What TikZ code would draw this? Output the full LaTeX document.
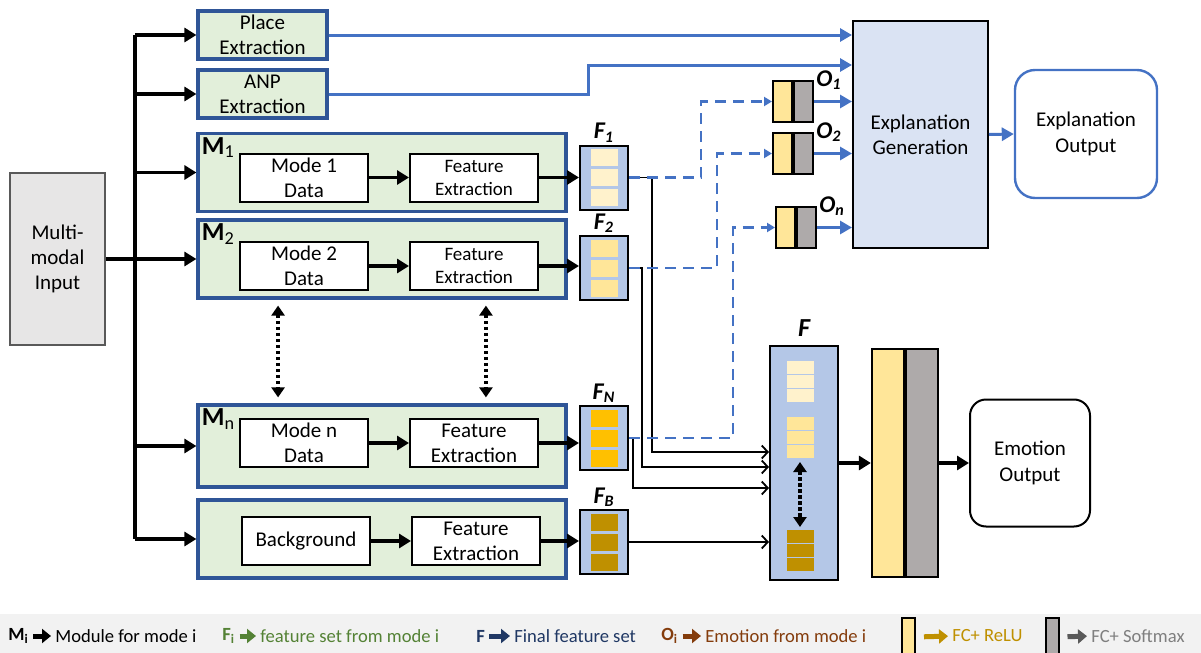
\documentclass[tikz,border=0pt]{standalone}
\usepackage{fontspec}
\setmainfont{Carlito}
\usetikzlibrary{positioning,arrows.meta,calc}
\definecolor{modgreen}{HTML}{E2EFDA}
\definecolor{modblue}{HTML}{2F5597}
\definecolor{lineblue}{HTML}{4472C4}
\definecolor{fblue}{HTML}{B4C7E7}
\definecolor{explblue}{HTML}{DAE3F3}
\definecolor{inputgray}{HTML}{E7E6E6}
\definecolor{fcyel}{HTML}{FFE699}
\definecolor{fcgray}{HTML}{AEAAAA}
\definecolor{sqone}{HTML}{FFF2CC}
\definecolor{sqtwo}{HTML}{FFE699}
\definecolor{sqthree}{HTML}{FFC000}
\definecolor{sqfour}{HTML}{BF9000}
\definecolor{leggray}{HTML}{F2F2F2}
\definecolor{leggreen}{HTML}{548235}
\definecolor{legnavy}{HTML}{203864}
\definecolor{legbrown}{HTML}{843C0C}
\definecolor{leggold}{HTML}{BF9000}
\definecolor{legdark}{HTML}{595959}
\definecolor{legtext}{HTML}{7F7F7F}

\begin{document}
\begin{tikzpicture}[x=0.5pt, y=-0.5pt,
  font=\fontsize{10.5}{12.6}\selectfont,
  module/.style={rectangle, draw=modblue, line width=1.6pt, fill=modgreen, minimum width=184pt, minimum height=39pt},
  extbox/.style={module, minimum width=64.5pt, minimum height=24pt, align=center, inner sep=1pt},
  stepbox/.style={rectangle, draw, line width=1pt, fill=white, minimum width=64pt, minimum height=24pt, align=center, inner sep=1pt},
  featbox/.style={rectangle, draw, line width=1pt, fill=fblue, minimum width=24pt, minimum height=32pt},
  outbox/.style={rectangle, draw, line width=1pt, minimum width=9.5pt, minimum height=20.5pt},
  modlabel/.style={font=\fontsize{13}{13}\selectfont\bfseries, inner sep=2.5pt, anchor=north west},
  setlabel/.style={font=\fontsize{12}{12}\selectfont\bfseries\itshape, inner sep=1pt},
  arr/.style={line width=1.7pt, -{Triangle[length=6pt,width=7pt]}},
  bluearr/.style={line width=1.5pt, draw=lineblue, -{Triangle[length=6pt,width=6.5pt]}},
  dasharr/.style={line width=1.2pt, draw=lineblue, dash pattern=on 5.5pt off 3.5pt, -{Triangle[length=4pt,width=4.5pt]}},
  thinarr/.style={line width=0.9pt, -{Straight Barb[length=3pt,width=6.5pt]}},
  dotarr/.style={line width=1.7pt, dash pattern=on 1.7pt off 1.3pt, {Triangle[length=5pt,width=6.5pt]}-{Triangle[length=5pt,width=6.5pt]}},
  legend/.style={font=\fontsize{9.3}{11}\selectfont, inner sep=0pt, anchor=west},
  legarr/.style={line width=2.5pt, -{Triangle[length=4.5pt,width=7pt]}, shorten <=2pt, shorten >=2pt}
]
\useasboundingbox (0,0) rectangle (1201,653);

\node[rectangle, draw=black!65, line width=1pt, fill=inputgray, minimum width=47.5pt, minimum height=86pt, align=center] (input) at (57.5,259) {Multi-\\modal\\Input};

\node[extbox] (place) at (262.5,35) {Place\\Extraction};
\node[extbox] (anp) at (262.5,94) {ANP\\Extraction};
\node[module] (m1) at (382,172.5) {};
\node[module] (m2) at (382,259) {};
\node[module, minimum height=41pt] (mn) at (382,446) {};
\node[module] (mb) at (382,539) {};

\node[modlabel] (lab1) at (m1.north west) {M\textsubscript{\mdseries 1}};
\node[modlabel] (lab2) at (m2.north west) {M\textsubscript{\mdseries 2}};
\node[modlabel] (labn) at (mn.north west) {M\textsubscript{\mdseries n}};

\node[stepbox] (d1) at (304,177.5) {Mode 1\\Data};
\node[stepbox, font=\fontsize{9.5}{11.5}\selectfont] (e1) at (474,177.5) {Feature\\Extraction};
\node[stepbox] (d2) at (304,266) {Mode 2\\Data};
\node[stepbox, font=\fontsize{9.5}{11.5}\selectfont] (e2) at (474,266) {Feature\\Extraction};
\node[stepbox] (dn) at (304,443) {Mode n\\Data};
\node[stepbox] (en) at (474,443) {Feature\\Extraction};
\node[stepbox] (db) at (306,541) {Background};
\node[stepbox] (eb) at (476,541) {Feature\\Extraction};

\node[featbox] (f1) at (604,177.5) {};
\node[featbox] (f2) at (604,268) {};
\node[featbox] (fn) at (604,438) {};
\node[featbox] (fb) at (604,542) {};
\node[setlabel, above=0pt of f1] (lf1) {F\textsubscript{1}};
\node[setlabel, above=0pt of f2] (lf2) {F\textsubscript{2}};
\node[setlabel, above=0pt of fn] (lfn) {F\textsubscript{N}};
\node[setlabel, above=0pt of fb] (lfb) {F\textsubscript{B}};
\foreach \b/\c in {f1/sqone, f2/sqtwo, fn/sqthree, fb/sqfour}
  \foreach \k in {-20,0,20}
    \fill[\c] ($(\b)+(-13.5,\k-8.5)$) rectangle ++(27,17);

\node[featbox, minimum width=34pt, minimum height=117pt] (bigf) at (804,463) {};
\node[setlabel, font=\fontsize{13}{13}\selectfont\bfseries\itshape, above=3pt of bigf] (lbigf) {F};
\foreach \y in {367,381,395} \fill[sqone] (787,\y-6.5) rectangle ++(27,13);
\foreach \y in {423,437,451} \fill[sqtwo] (787,\y-6.5) rectangle ++(27,13);
\foreach \y in {536,550,564} \fill[sqfour] (787,\y-6.5) rectangle ++(27,13);
\coordinate (ftop) at (800,462);
\coordinate (fbot) at (800,527);
\draw[dotarr] (ftop) -- (fbot);

\node[rectangle, draw, line width=1.1pt, fill=fcyel, minimum width=16pt, minimum height=114pt] (relu) at (888,463) {};
\node[rectangle, draw, line width=1.1pt, fill=fcgray, minimum width=16pt, minimum height=114pt, right=0pt of relu] (soft) {};
\node[rectangle, draw, line width=1pt, rounded corners=8pt, minimum width=60pt, minimum height=63.5pt, align=center] (emo) at (1030,463) {Emotion\\Output};

\node[rectangle, draw, line width=1pt, fill=explblue, minimum width=67.5pt, minimum height=113.5pt, align=center] (expl) at (920.5,134.5) {Explanation\\Generation};
\node[rectangle, draw=lineblue, line width=1.2pt, rounded corners=10pt, minimum width=71pt, minimum height=64pt, align=center] (eout) at (1086,134) {Explanation\\Output};

\node[outbox, fill=fcyel] (o1a) at (782.5,101.5) {};
\node[outbox, fill=fcgray, right=0pt of o1a] (o1b) {};
\node[outbox, fill=fcyel] (o2a) at (782.5,153.5) {};
\node[outbox, fill=fcgray, right=0pt of o2a] (o2b) {};
\node[outbox, fill=fcyel] (ona) at (785.5,227.5) {};
\node[outbox, fill=fcgray, right=0pt of ona] (onb) {};
\node[setlabel, anchor=west] (lo1) at (o1b.north east) {O\textsubscript{1}};
\node[setlabel, anchor=west] (lo2) at (o2b.north east) {O\textsubscript{2}};
\node[setlabel, anchor=west] (lon) at (onb.north east) {O\textsubscript{n}};

\coordinate (bus) at (135,0);
\draw[line width=1.7pt] (place.west -| bus) -- (mb.west -| bus);
\foreach \n in {place,anp,m1,mn,mb}
  \draw[arr] (\n.west -| bus) -- (\n.west);
\draw[arr] (input.east) -- (m2.west);

\foreach \r in {1,2,n,b} {
  \draw[arr] (d\r.east) -- (d\r.east -| e\r.west);
  \draw[arr] (e\r.east) -- (e\r.east -| f\r.west);
}

\draw[dotarr, shorten <=3pt, shorten >=3pt] ($(m2.south west)!0.22!(m2.south east)$) -- ($(mn.north west)!0.22!(mn.north east)$);
\draw[dotarr, shorten <=3pt, shorten >=3pt] ($(m2.south west)!0.78!(m2.south east)$) -- ($(mn.north west)!0.78!(mn.north east)$);

\coordinate (j1) at (652,452);
\coordinate (j2) at (642,467);
\coordinate (jn) at (633,488);
\draw[thinarr] (f1.east) -| (j1) -- (j1 -| bigf.west);
\draw[thinarr] (f2.east) -| (j2) -- (j2 -| bigf.west);
\draw[thinarr] (fn.east) -| (jn) -- (jn -| bigf.west);
\draw[thinarr] (fb.east) -- (fb.east -| bigf.west);

\coordinate (k1) at (701,101.5);
\coordinate (k2) at (717,153.5);
\coordinate (kn) at (733,227.5);
\draw[dasharr] (f1.east) -| (k1) -- (o1a.west);
\draw[dasharr] (f2.east) -| (k2) -- (o2a.west);
\draw[dasharr] (fn.east) -| (kn) -- (ona.west);

\coordinate (ak) at (588,65);
\draw[bluearr] (place.east) -- (place.east -| expl.west);
\draw[bluearr] (anp.east) -| (ak) -- (ak -| expl.west);
\draw[bluearr] (o1b.east) -- (o1b.east -| expl.west);
\draw[bluearr] (o2b.east) -- (o2b.east -| expl.west);
\draw[bluearr] (onb.east) -- (onb.east -| expl.west);
\draw[bluearr] (expl.east) -- (eout.west);

\draw[arr] (bigf.east) -- (relu.west);
\draw[arr] (soft.east) -- (emo.west);

\fill[leggray] (0,614) rectangle (1201,653);
\node[legend] (lm) at (8,636) {\textbf{M\textsubscript{i}}};
\node[legend] (lmt) at (55,636) {Module for mode i};
\node[legend, text=leggreen] (lf) at (222,636) {\textbf{F\textsubscript{i}}};
\node[legend, text=leggreen] (lft) at (260,636) {feature set from mode i};
\node[legend, text=legnavy] (lF) at (476,636) {\textbf{F}};
\node[legend, text=legnavy] (lFt) at (514,636) {Final feature set};
\node[legend, text=legbrown] (lo) at (661,636) {\textbf{O\textsubscript{i}}};
\node[legend, text=legbrown] (lot) at (705,636) {Emotion from mode i};
\node[rectangle, draw, line width=1pt, fill=fcyel, minimum width=6.5pt, minimum height=19pt, inner sep=0pt] (lyel) at (908.5,637) {};
\node[legend, text=leggold] (lrelu) at (952,636) {FC+ ReLU};
\node[rectangle, draw, line width=1pt, fill=fcgray, minimum width=6.5pt, minimum height=19pt, inner sep=0pt] (lgry) at (1052,637) {};
\node[legend, text=legtext] (lsoft) at (1091,636) {FC+ Softmax};
\draw[legarr, black] (lm.east) -- (lmt.west);
\draw[legarr, leggreen] (lf.east) -- (lft.west);
\draw[legarr, legnavy] (lF.east) -- (lFt.west);
\draw[legarr, legbrown] (lo.east) -- (lot.west);
\draw[legarr, leggold, shorten <=4pt] (lyel.east) -- (lrelu.west);
\draw[legarr, legdark, shorten <=4pt] (lgry.east) -- (lsoft.west);
\end{tikzpicture}
\end{document}
